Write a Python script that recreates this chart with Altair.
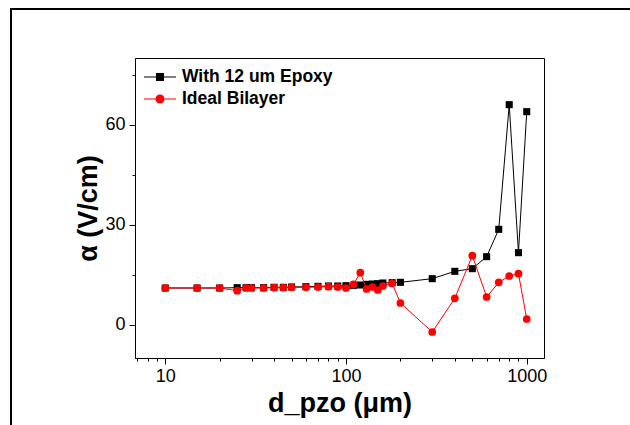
import altair as alt
import pandas as pd

# ---- data ----
d_pzo = [10, 15, 20, 25, 28, 30, 35, 40, 45, 50, 60, 70, 80, 90, 100, 110, 120,
         130, 140, 150, 160, 180, 200, 300, 400, 500, 600, 700, 800, 900, 1000]
alpha_epoxy = [11.0, 11.0, 11.0, 11.1, 11.1, 11.1, 11.1, 11.2, 11.2, 11.3, 11.4, 11.5,
               11.6, 11.6, 11.7, 11.8, 11.9, 12.1, 12.2, 12.3, 12.5, 12.6, 12.7, 13.8,
               16.0, 16.8, 20.4, 28.6, 66.0, 21.6, 63.9]
alpha_bilayer = [11.0, 11.0, 11.0, 10.2, 11.0, 11.0, 11.0, 11.1, 11.1, 11.2, 11.2, 11.3,
                 11.4, 11.3, 11.0, 12.1, 15.6, 10.7, 11.3, 10.4, 11.6, 12.4, 6.5, -2.2,
                 7.9, 20.7, 8.3, 12.7, 14.6, 15.3, 1.7]
series_names = ["With 12 um Epoxy", "Ideal Bilayer"]
series_colors = ["#000000", "#ff0000"]
x_ticks = [10, 100, 1000]
x_minor = [7, 8, 9, 20, 30, 40, 50, 60, 70, 80, 90, 200, 300, 400, 500, 600, 700, 800, 900]
y_ticks = [0, 30, 60]
y_minor = [15, 45, 75]

rows = []
for name, ys in zip(series_names, [alpha_epoxy, alpha_bilayer]):
    for xv, yv in zip(d_pzo, ys):
        rows.append({"series": name, "x": xv, "y": yv})
df = pd.DataFrame(rows)

FONT = "Liberation Sans"
xscale = alt.Scale(type="log", domain=[6.8, 1246], nice=False)
yscale = alt.Scale(domain=[-10, 80], nice=False, zero=False)

main_x_axis = alt.Axis(values=x_ticks, format="d", title="d_pzo (μm)", orient="bottom",
                       grid=False, tickSize=6, labelFontSize=18, labelPadding=3,
                       titleFontSize=27, titleFontWeight="bold", titlePadding=5)
main_y_axis = alt.Axis(values=y_ticks, title="α (V/cm)", orient="left", grid=False,
                       tickSize=6, labelFontSize=18, labelPadding=4,
                       titleFontSize=27, titleFontWeight="bold", titlePadding=2)
minor_x_axis = alt.Axis(values=x_minor, labels=False, title=None, orient="bottom",
                        grid=False, tickSize=3, domain=False)
minor_y_axis = alt.Axis(values=y_minor, labels=False, title=None, orient="left",
                        grid=False, tickSize=3, domain=False)

base = alt.Chart(df)
epoxy = base.transform_filter(alt.datum.series == series_names[0])
bilayer = base.transform_filter(alt.datum.series == series_names[1])

X = lambda ax: alt.X("x:Q", scale=xscale, axis=ax)
Y = lambda ax: alt.Y("y:Q", scale=yscale, axis=ax)

line_epoxy = epoxy.mark_line(color=series_colors[0], strokeWidth=1).encode(
    x=X(main_x_axis), y=Y(main_y_axis))
pts_epoxy = epoxy.mark_square(color=series_colors[0], size=50, opacity=1).encode(
    x=X(None), y=Y(None))
line_bilayer = bilayer.mark_line(color=series_colors[1], strokeWidth=1).encode(
    x=X(None), y=Y(None))
pts_bilayer = bilayer.mark_circle(color=series_colors[1], size=60, opacity=1).encode(
    x=X(None), y=Y(None))

sym_square = "M-1.6,-0.06L1.6,-0.06L1.6,0.06L-1.6,0.06Z M-0.4,-0.4L0.4,-0.4L0.4,0.4L-0.4,0.4Z"
sym_circle = "M-1.6,-0.06L1.6,-0.06L1.6,0.06L-1.6,0.06Z M0.45,0A0.45,0.45 0 1,1 -0.45,0A0.45,0.45 0 1,1 0.45,0Z"

leg = alt.Legend(title=None, orient="none", legendX=15, legendY=9, symbolSize=400,
                 labelFont=FONT, labelFontSize=17.5, labelFontWeight="bold",
                 labelColor="black", labelOffset=12, rowPadding=3, padding=0,
                 symbolStrokeWidth=0)
legend_layer = base.transform_filter("datum.x < 0").mark_point(
    filled=True, size=400, opacity=1).encode(
    x=X(None), y=Y(None),
    color=alt.Color("series:N", scale=alt.Scale(domain=series_names, range=series_colors),
                    legend=leg),
    shape=alt.Shape("series:N", scale=alt.Scale(domain=series_names,
                                                range=[sym_square, sym_circle]),
                    legend=leg))

minor_layer = base.mark_point(opacity=0).encode(x=X(minor_x_axis), y=Y(minor_y_axis))

frame = alt.Chart(alt.Data(values=[{"a": 1}])).mark_rect(
    filled=False, color="black", strokeWidth=2, fillOpacity=0).encode(
    x=alt.value(-124), x2=alt.value(540), y=alt.value(-49), y2=alt.value(420))

chart = alt.layer(
    frame, line_epoxy, pts_epoxy, line_bilayer, pts_bilayer, legend_layer, minor_layer
).resolve_axis(x="independent", y="independent").properties(
    width=409, height=300,
    autosize=alt.AutoSizeParams(type="none"),
    padding={"left": 135, "top": 58, "right": 86, "bottom": 67},
    background="white",
).configure_view(stroke="black", strokeWidth=1).configure_axis(
    labelFont=FONT, titleFont=FONT, labelColor="black", titleColor="black",
    domainColor="black", tickColor="black", domainWidth=1, tickWidth=1,
)

chart.save("out.html", embed_options={"renderer": "svg", "actions": False})
